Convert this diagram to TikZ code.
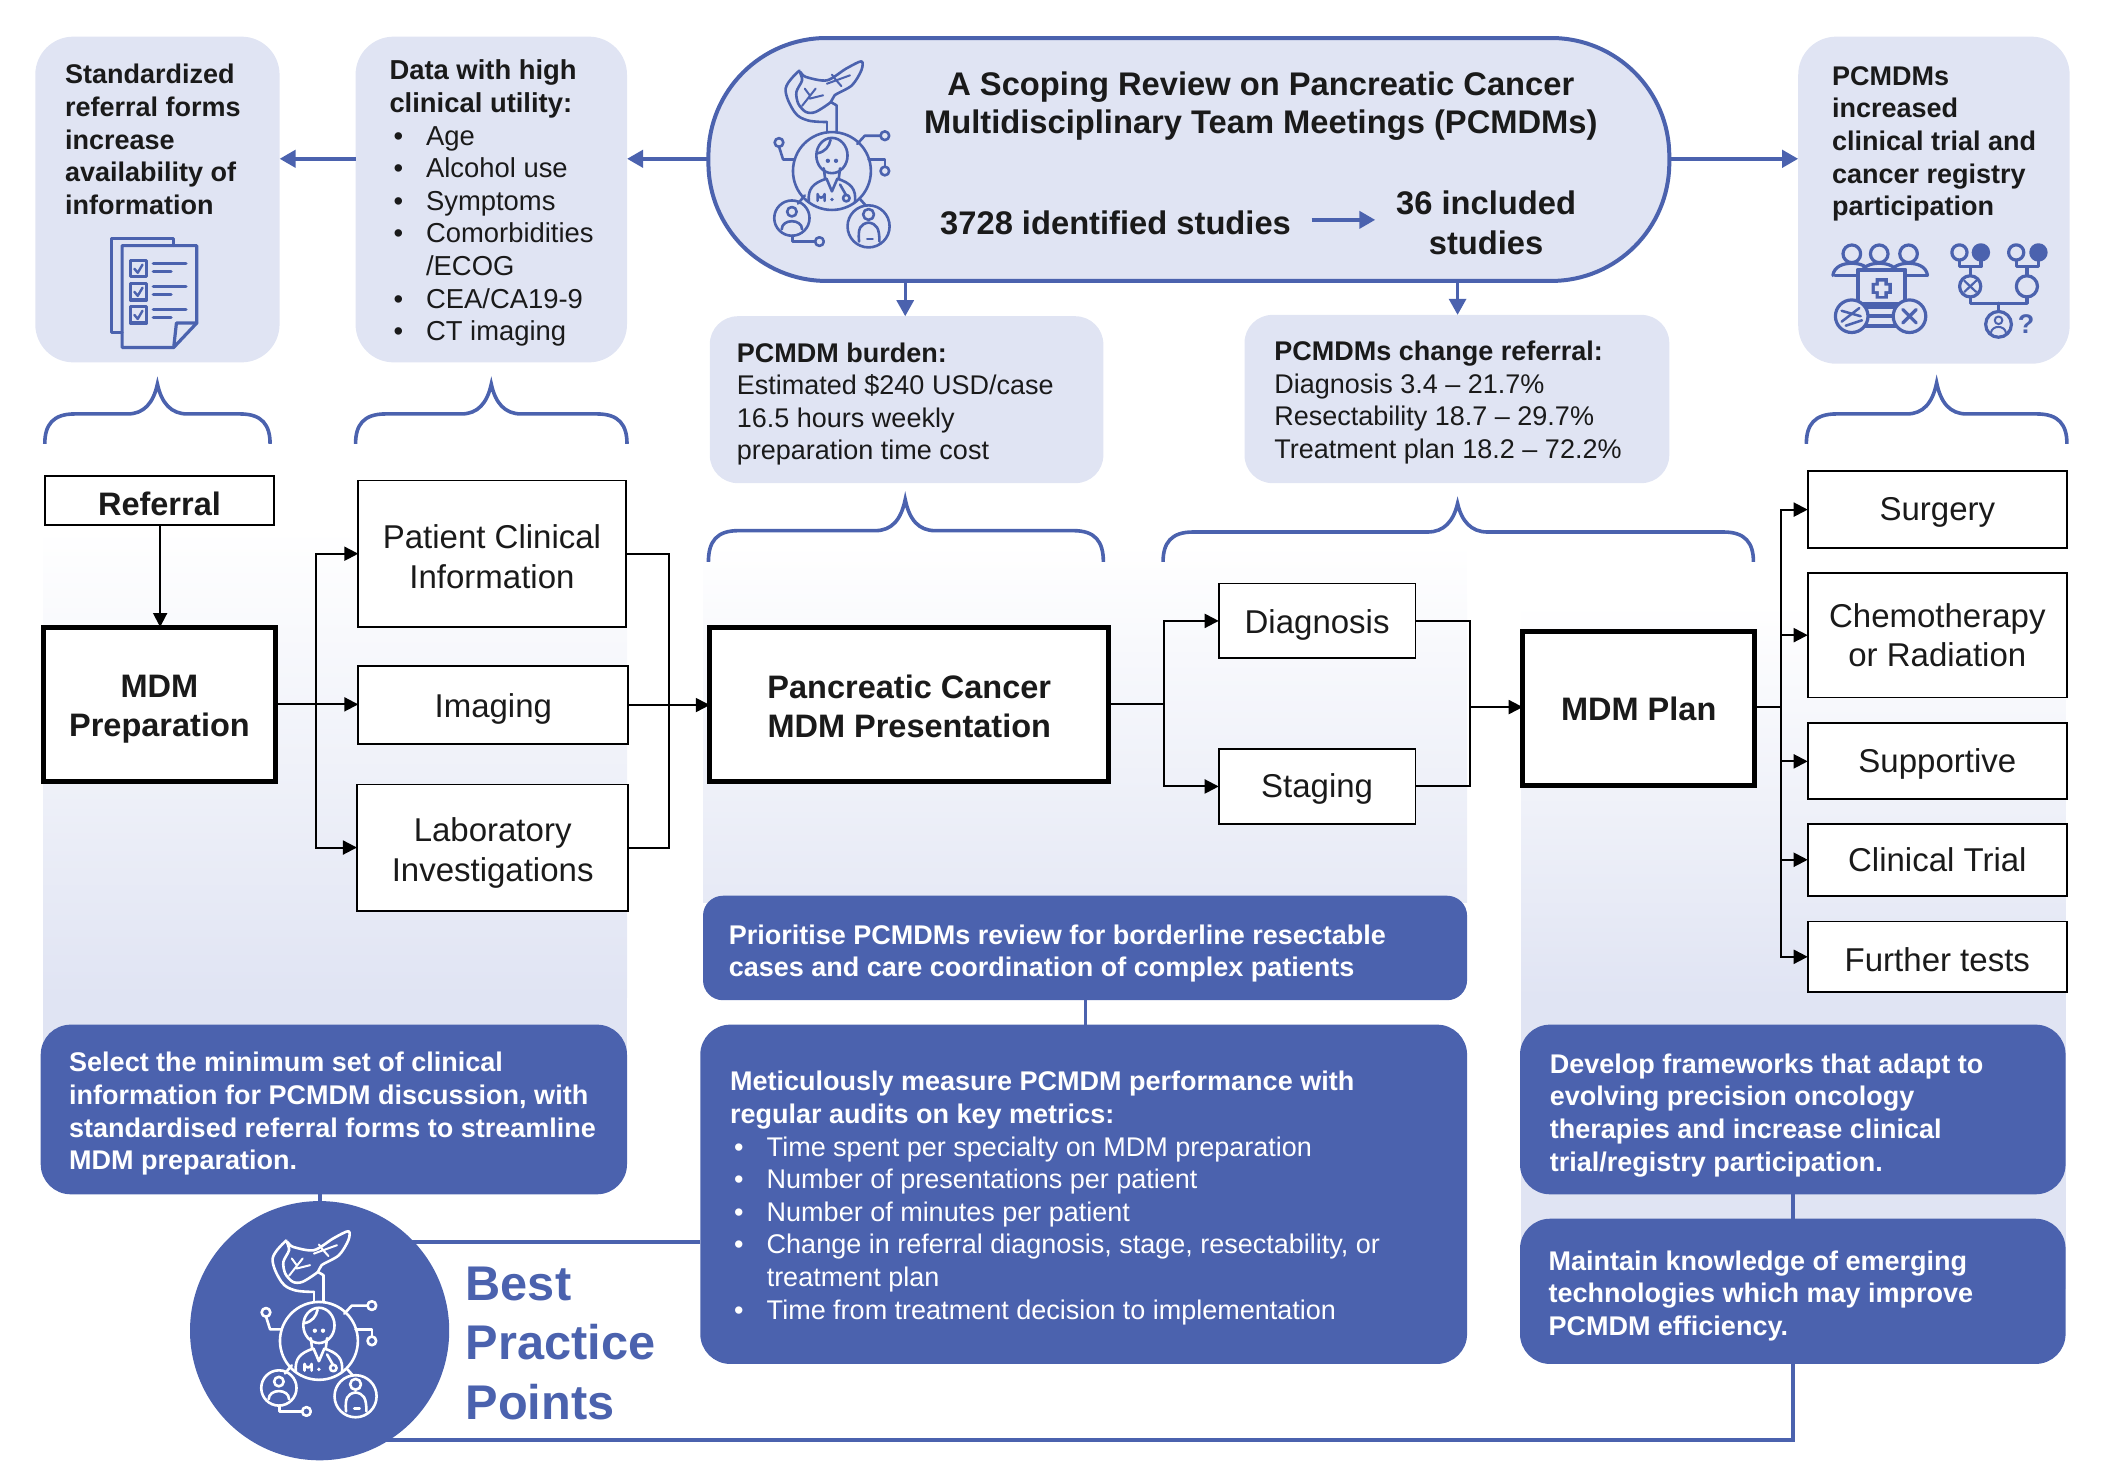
\documentclass[tikz,border=0pt]{standalone}
\usepackage{fontspec}
\setmainfont{Liberation Sans}
\usetikzlibrary{arrows.meta,calc}
\definecolor{bl}{HTML}{4B62AE}
\definecolor{lav}{HTML}{E0E4F3}
\definecolor{ink}{HTML}{1A1A1A}
\newcommand{\fsz}[2]{\fontsize{#1}{#2}\selectfont}
\newcommand{\sh}[1]{\rule{0pt}{#1pt}}
\newcommand{\placebox}[7]{\node[#1, minimum width={1.3571pt*(#5-#3)}, minimum height={1.3571pt*(#6-#4)}] (#2) at ({(#3+#5)/2},{(#4+#6)/2}) {#7};}
\newcommand{\bracket}[6]{\draw[bracestyle] (#1,#6) .. controls (#1,{#5+8}) and ({#1+6},#5) .. ({#1+22},#5) -- ({#2-22},#5) .. controls ({#2-10},#5) and ({#2-3},{#5-8}) .. (#2,#4) .. controls ({#2+3},{#5-8}) and ({#2+10},#5) .. ({#2+22},#5) -- ({#3-22},#5) .. controls ({#3-6},#5) and (#3,{#5+8}) .. (#3,#6);}
\newcommand{\bul}[1]{\makebox[36.6pt][l]{\hspace*{4pt}•}#1}
% network / doctor icon, local origin = centre of the large circle
\newcommand{\netIcon}[3]{%
\begin{scope}[shift={(#1,#2)},draw=#3,line width=2.6pt,line cap=round,line join=round]
\draw (0,0) circle (28.7);
\draw plot[smooth cycle,tension=.5] coordinates {(-23.4,-72.9) (-19.2,-69.3) (-3.7,-66.8) (10.4,-75.4) (21.7,-80.8) (21.7,-74.2) (14.7,-63.1) (2,-55.8) (-0.8,-50.8) (-12.1,-43.5) (-19.2,-43.5) (-24.8,-49.6) (-26.2,-58.2) (-22,-66.8)};
\draw plot[smooth,tension=.6] coordinates {(-24,-74) (-34.1,-60.7) (-27.6,-43.5) (-17.8,-37.3) (-3.7,-36.1)};
\draw (-3.7,-36.1) -- (-3.7,-29);
\draw (3.4,-28.5) -- (3.4,-48.4) -- (-0.8,-50.8);
\draw[line width=2pt] (-22,-48) -- (-12,-60.7) (-16.4,-55.8) -- (-20,-60.7) (-16.4,-53.3) -- (-6.5,-55.8);
\draw[line width=2pt] (-3.7,-64.3) -- (13.3,-70.5) (3,-67) -- (0,-71) (3,-67) -- (7,-62.5);
\draw (0,-11.4) ellipse (11.5 and 13);
\draw (-11,-13) .. controls (-5,-14) and (-2,-18) .. (-1,-23);
\draw (-6,-2) -- (-5,6) (6,-2) -- (5,6);
\fill[#3] (-3,-7.5) circle (1.6) (3,-7.5) circle (1.6);
\draw (-17,23) .. controls (-18,13) and (-14,9) .. (-4,5.6) -- (0,15) -- (4,5.6) .. controls (14,9) and (18,13) .. (17,23);
\draw (-10.6,22) -- (-10.6,17) arc (180:0:2.6) -- (-5.4,22);
\draw (10.6,20) circle (2.4) (10,17) -- (6,10);
\fill[#3] (0,21) circle (1.4);
\draw (-29.5,34.7) circle (13);
\draw (27,40.8) circle (15.5);
\draw (-25,24) -- (-20,18) (21,21) -- (25,25.5);
\draw (-39,-21) circle (3.2) (39,-26) circle (3.2) (39,0) circle (3.2) (-9.2,52) circle (3.2);
\draw (-39,-18) -- (-36,-8.5) -- (-28,-8.5);
\draw (35.8,-26) -- (24.2,-26) -- (18.7,-20);
\draw (39,-3.2) -- (39,-8.5) -- (27,-8.5);
\draw (-29,47.7) -- (-29,52) -- (-12.4,52);
\draw (-29.5,30) circle (3.5);
\draw (-37,43) .. controls (-37,35) and (-22,35) .. (-22,43);
\draw (27,32) circle (4);
\draw (20,52) .. controls (19,42) and (21,39) .. (27,38) .. controls (33,39) and (35,42) .. (35,52);
\draw (26,50) -- (30,50);
\end{scope}}
\tikzset{
 x=1.3571pt,y=-1.3571pt,
 softbox/.style={fill=lav,draw=none,rounded corners=#1,inner sep=0pt,outer sep=0pt},
 softbox/.default=38pt,
 bluebox/.style={fill=bl,draw=none,rounded corners=#1,inner sep=0pt,outer sep=0pt},
 bluebox/.default=30pt,
 thinbox/.style={fill=white,draw=black,line width=1.8pt,inner sep=0pt,outer sep=0pt,align=center,text=ink,font=\fsz{33}{39.5}},
 thickbox/.style={fill=white,draw=black,line width=5pt,inner sep=0pt,outer sep=0pt,align=center,text=ink,font=\bfseries\fsz{32.5}{39.5}},
 tb/.style={anchor=north west,inner sep=0pt,outer sep=0pt,align=left,text=ink,font=\fsz{27}{32.6}},
 tw/.style={tb,text=white},
 conn/.style={draw=black,line width=2pt},
 conna/.style={conn,-{Triangle[length=14pt,width=14pt]}},
 bline/.style={draw=bl,line width=4pt},
 barr/.style={draw=bl,line width=4pt,-{Triangle[length=16pt,width=17pt]}},
 bracestyle/.style={draw=bl,line width=3.6pt},
 ic/.style={draw=bl,line width=3.2pt,line cap=round,line join=round},
}
\begin{document}
\begin{tikzpicture}
\useasboundingbox (0,0) rectangle (1568,1088.3);
% graded panels
\shade[top color=white,bottom color=lav] (32,390) rectangle (462,735);
\fill[lav] (32,734) rectangle (462,790);
\shade[top color=white,bottom color=lav!80!white] (518,400) rectangle (1081,665);
\shade[top color=white,bottom color=lav] (1121,445) rectangle (1522,735);
\fill[lav] (1121,734) rectangle (1522,950);
% top panels
\placebox{softbox}{sa}{26}{27}{206}{267}{}
\placebox{softbox}{sb}{262}{27}{462}{267}{}
\placebox{softbox}{sr}{1325}{27}{1525}{268}{}
\placebox{softbox=28pt}{sc}{523}{233}{813}{356}{}
\placebox{softbox=28pt}{sd}{917}{232}{1230}{356}{}
\placebox{fill=lav,draw=bl,line width=4pt,rounded corners=118pt,inner sep=0pt,outer sep=0pt}{pill}{522}{28}{1230}{207}{}
% top arrows
\draw[barr] (pill.west |- 0,117) -- (sb.east |- 0,117);
\draw[barr] (sb.west |- 0,117) -- (sa.east |- 0,117);
\draw[barr] (pill.east |- 0,117) -- (sr.west |- 0,117);
\coordinate (p1) at (667,207);
\coordinate (p2) at (1074,207);
\draw[barr,line width=3pt] (p1) -- (p1 |- sc.north);
\draw[barr,line width=3pt] (p2) -- (p2 |- sd.north);
% title
\node[anchor=center,align=center,text=ink,font=\bfseries\fsz{32.7}{38},inner sep=0pt] (ttl) at (929,78) {A Scoping Review on Pancreatic Cancer\\Multidisciplinary Team Meetings (PCMDMs)};
\node[anchor=center,text=ink,font=\bfseries\fsz{32.7}{39.5},inner sep=0pt] (n3728) at (822,164) {3728 identified studies};
\node[anchor=center,align=center,text=ink,font=\bfseries\fsz{32.7}{39.5},inner sep=0pt] (n36) at (1095,164) {36 included\\studies};
\draw[barr] ($(n3728.east)+(15,-2)$) -- ++(47,0);
\netIcon{613}{126}{bl}
% top texts
\node[tb] (ta) at (48,45) {\strut\bfseries Standardized\\\bfseries referral forms\\\bfseries increase\\\bfseries availability of\\\bfseries information};
\node[tb,font=\fsz{27.4}{32.6}] (tbb) at (287,42) {\strut\bfseries Data with high\\\bfseries clinical utility:\\\bul{Age}\\\bul{Alcohol use}\\\bul{Symptoms}\\\bul{Comorbidities}\\\hspace*{36.6pt}/ECOG\\\bul{CEA/CA19-9}\\\bul{CT imaging}};
\node[tb] (tr) at (1350,46) {\strut\bfseries PCMDMs\\\bfseries increased\\\bfseries clinical trial and\\\bfseries cancer registry\\\bfseries participation};
\node[tb] (tc) at (543,250) {\strut\textbf{PCMDM burden:}\\Estimated \$240 USD/case\\16.5 hours weekly\\preparation time cost};
\node[tb] (td) at (939,249) {\strut\textbf{PCMDMs change referral:}\\Diagnosis 3.4 – 21.7\%\\Resectability 18.7 – 29.7\%\\Treatment plan 18.2 – 72.2\%};
% forms icon
\draw[ic] (90,245) -- (82,245) -- (82,176) -- (128,176) -- (128,181);
\draw[ic] (90,181) -- (145,181) -- (145,238) -- (128,256) -- (90,256) -- cycle;
\draw[ic] (145,238) -- (130,238) -- (128,256);
\foreach \yy in {192,209,226}{
 \draw[ic] (96,\yy) rectangle (108,{\yy+12});
 \draw[ic,line width=2.4pt] (99,{\yy+6}) -- (101.5,{\yy+9}) -- (105,{\yy+3});
 \draw[ic,line width=3.5pt] (113,{\yy+2}) -- (137,{\yy+2});
 \draw[ic,line width=3.5pt] (113,{\yy+8}) -- (126,{\yy+8});
}
% team / clipboard icon
\foreach \xx in {1364.5,1384.7,1406.3}{
 \draw[ic] (\xx,187) circle (6.5);
 \draw[ic,fill=lav] ({\xx-14},203) .. controls ({\xx-13},196) and ({\xx-6},194) .. (\xx,194) .. controls ({\xx+6},194) and ({\xx+13},196) .. ({\xx+14},203);
}
\draw[ic] (1352,203) -- (1420,203);
\draw[ic,fill=lav] (1369,199) rectangle (1404,224);
\draw[ic,line width=4pt] (1369,199) -- (1369,224) (1404,199) -- (1404,224);
\fill[bl] (1382,205) rectangle (1391,220) (1379,208.5) rectangle (1394,216.5);
\fill[lav] (1384.5,207.5) rectangle (1388.5,218) (1381.5,210.5) rectangle (1391.5,214.5);
\draw[ic,line width=4pt] (1372,226) -- (1400,226) (1372,233) -- (1400,233) (1372,240) -- (1400,240);
\draw[ic,fill=lav] (1364.4,233) circle (12);
\draw[ic,fill=lav] (1407,233) circle (12);
\draw[ic] (1402,228) -- (1412,238) (1412,228) -- (1402,238);
\draw[ic,line width=2.5pt] (1357,229) -- (1371,233) (1357,237) -- (1370,227) (1360,240) -- (1372,236);
% pedigree icon
\draw[ic] (1443.8,186) circle (5.6);
\filldraw[ic,fill=bl] (1459.6,186) circle (5.6);
\draw[ic] (1485.6,186) circle (5.6);
\filldraw[ic,fill=bl] (1502,186) circle (5.6);
\draw[ic] (1443.8,192) -- (1443.8,196.5) -- (1459.6,196.5) -- (1459.6,192) (1451.7,196.5) -- (1451.7,203);
\draw[ic] (1485.6,192) -- (1485.6,196.5) -- (1502,196.5) -- (1502,192) (1493.5,196.5) -- (1493.5,203);
\draw[ic] (1451.7,211) circle (7.8);
\draw[ic,line width=2.2pt] (1447.5,207) -- (1456,215) (1456,207) -- (1447.5,215);
\draw[ic] (1493.5,211) circle (7.8);
\draw[ic] (1451.7,219) -- (1451.7,223.5) -- (1493.5,223.5) -- (1493.5,219) (1472.6,223.5) -- (1472.6,229.5);
\draw[ic] (1472.6,239) circle (9.5);
\draw[ic,line width=2pt] (1472.6,236) circle (2.8);
\draw[ic,line width=2pt] (1467,245) .. controls (1468,239.5) and (1477,239.5) .. (1478,245);
\node[anchor=center,text=bl,font=\bfseries\fsz{27}{27},inner sep=0pt] (qm) at (1493,239) {?};
% braces
\bracket{33}{116}{199}{283}{305}{327}
\bracket{262}{362}{462}{283}{305}{327}
\bracket{522}{667}{813}{368}{391}{414}
\bracket{857}{1074}{1292}{371}{392}{414}
\bracket{1331}{1427}{1523}{282}{305}{327}
% flow boxes
\placebox{thinbox,font=\bfseries\fsz{32.5}{36}}{ref}{33}{351}{202}{387}{\sh{29}Referral}
\placebox{thickbox}{mdm}{32}{462}{203}{576}{\sh{32}MDM\\Preparation}
\placebox{thinbox}{pat}{264}{354}{461}{462}{\sh{29.4}Patient Clinical\\Information}
\placebox{thinbox}{img}{264}{491}{463}{548}{\sh{32}Imaging}
\placebox{thinbox}{lab}{263}{578}{463}{671}{\sh{35}Laboratory\\Investigations}
\placebox{thickbox}{pres}{523}{462}{817}{576}{\sh{28}Pancreatic Cancer\\MDM Presentation}
\placebox{thinbox}{diag}{898}{430}{1043}{485}{\sh{32}Diagnosis}
\placebox{thinbox}{stag}{898}{552}{1043}{607}{\sh{29}Staging}
\placebox{thickbox}{plan}{1122}{465}{1293}{579}{MDM Plan}
\placebox{thinbox}{surg}{1332}{347}{1523}{404}{\sh{29.4}Surgery}
\placebox{thinbox}{chem}{1332}{422}{1523}{514}{Chemotherapy\\or Radiation}
\placebox{thinbox}{supp}{1332}{533}{1523}{589}{\sh{30}Supportive}
\placebox{thinbox}{ctri}{1332}{607}{1523}{660}{Clinical Trial}
\placebox{thinbox}{furt}{1332}{679}{1523}{731}{\sh{29.4}Further tests}
% connectors
\coordinate (j1) at (233,519);
\coordinate (j2) at (493,519);
\coordinate (j3) at (858,519);
\coordinate (j4) at (1083,521);
\coordinate (j5) at (1312,521);
\draw[conna] (ref.south -| 118,0) -- (mdm.north -| 118,0);
\draw[conna] (mdm.east) -- (mdm.east -| img.west);
\draw[conna] (j1) |- (pat.west);
\draw[conna] (j1) |- (lab.west);
\draw[conn] (pat.east) -| (j2);
\draw[conn] (lab.east) -| (j2);
\draw[conna] (img.east) -- (img.east -| pres.west);
\draw[conn] (pres.east) -- (j3);
\draw[conna] (j3) |- (diag.west);
\draw[conna] (j3) |- (stag.west);
\draw[conn] (diag.east) -| (j4);
\draw[conn] (stag.east) -| (j4);
\draw[conna] (j4) -- (j4 -| plan.west);
\draw[conn] (j5 -| plan.east) -- (j5);
\foreach \t in {surg,chem,supp,ctri,furt}{\draw[conna] (j5) |- (\t.west);}
% blue boxes
\placebox{bluebox}{ma}{30}{755}{462}{880}{}
\placebox{bluebox=20pt}{mb}{518}{660}{1081}{737}{}
\placebox{bluebox}{mc}{516}{755}{1081}{1005}{}
\placebox{bluebox}{md}{1120}{755}{1522}{880}{}
\placebox{bluebox}{me}{1120}{898}{1522}{1005}{}
\node[circle,fill=bl,draw=none,inner sep=0pt,outer sep=0pt,minimum size={1.3571pt*191}] (bp) at (235.5,980.5) {};
\coordinate (r1) at (516,915);
\coordinate (r2) at (1321,1061);
\coordinate (r3) at (800,737);
\draw[bline] (bp.center |- ma.south) -- (bp.north);
\draw[bline,line width=3pt] (r3) -- (r3 |- mc.north);
\draw[bline] (md.south -| r2) -- (me.north -| r2);
\draw[bline] (r1) -- (r1 -| bp.center);
\draw[bline] (me.south -| r2) -- (r2) -- (r2 -| bp.center);
\netIcon{235}{988}{white}
\node[tw] (t1) at (51,773) {\strut\bfseries Select the minimum set of clinical\\\bfseries information for PCMDM discussion, with\\\bfseries standardised referral forms to streamline\\\bfseries MDM preparation.};
\node[tw] (t2) at (537,679) {\strut\bfseries Prioritise PCMDMs review for borderline resectable\\\bfseries cases and care coordination of complex patients};
\node[tw] (t3) at (538,787) {\strut\bfseries Meticulously measure PCMDM performance with\\\bfseries regular audits on key metrics:\\\bul{Time spent per specialty on MDM preparation}\\\bul{Number of presentations per patient}\\\bul{Number of minutes per patient}\\\bul{Change in referral diagnosis, stage, resectability, or}\\\hspace*{36.6pt}treatment plan\\\bul{Time from treatment decision to implementation}};
\node[tw] (t4) at (1142,774) {\strut\bfseries Develop frameworks that adapt to\\\bfseries evolving precision oncology\\\bfseries therapies and increase clinical\\\bfseries trial/registry participation.};
\node[tw] (t5) at (1141,919) {\strut\bfseries Maintain knowledge of emerging\\\bfseries technologies which may improve\\\bfseries PCMDM efficiency.};
\node[anchor=north west,align=left,inner sep=0pt,text=bl,font=\bfseries\fsz{48.7}{59.7}] (bpt) at (343,927) {\strut Best\\Practice\\Points};
\end{tikzpicture}
\end{document}
